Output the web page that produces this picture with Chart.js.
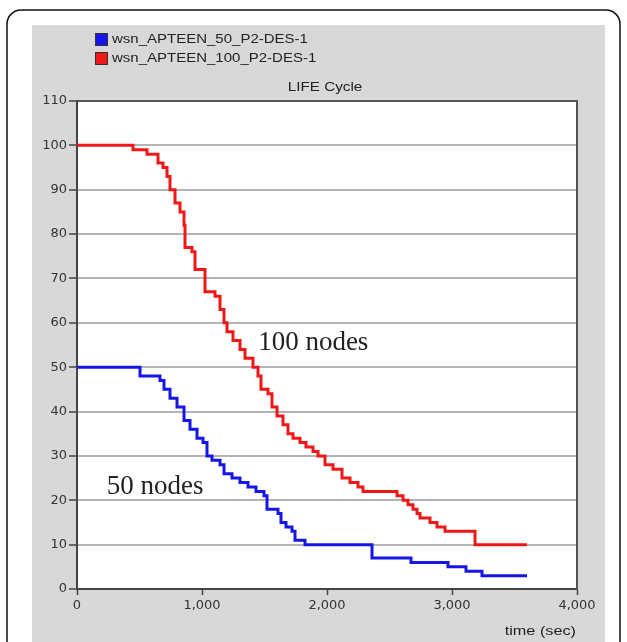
<!DOCTYPE html>
<html>
<head>
<meta charset="utf-8">
<script src="https://cdn.jsdelivr.net/npm/chart.js@4"></script>
<style>
  html, body { margin: 0; padding: 0; background: #fff; }
  #wrap { position: relative; width: 627px; height: 642px; }
</style>
</head>
<body>
<div id="wrap"><canvas id="lifeChart" width="627" height="642"></canvas></div>
<script>
// series: time (sec) where the node count changes, and the new count
const timeRed = [0, 448, 560, 648, 688, 720, 744, 784, 824, 856, 864, 920, 944, 1024, 1104, 1144, 1176, 1200, 1248, 1304, 1344, 1408, 1448, 1472, 1528, 1560, 1600, 1648, 1688, 1728, 1784, 1832, 1888, 1928, 1984, 2048, 2120, 2184, 2248, 2288, 2560, 2608, 2648, 2688, 2720, 2744, 2824, 2880, 2944, 3184, 3600]
const nodesRed = [100, 99, 98, 96, 95, 93, 90, 87, 85, 82, 77, 76, 72, 67, 66, 63, 60, 58, 56, 54, 52, 50, 48, 45, 44, 41, 39, 37, 35, 34, 33, 32, 31, 30, 28, 27, 25, 24, 23, 22, 21, 20, 19, 18, 17, 16, 15, 14, 13, 10, 10]

const timeBlue = [0, 504, 664, 696, 744, 800, 856, 904, 960, 1008, 1040, 1080, 1144, 1176, 1240, 1304, 1368, 1432, 1496, 1520, 1608, 1632, 1672, 1720, 1744, 1824, 2360, 2672, 2968, 3112, 3240, 3600]
const nodesBlue = [50, 48, 47, 45, 43, 41, 38, 36, 34, 33, 30, 29, 28, 26, 25, 24, 23, 22, 21, 18, 17, 15, 14, 13, 11, 10, 7, 6, 5, 4, 3, 3]

const seriesNames = ['wsn_APTEEN_50_P2-DES-1', 'wsn_APTEEN_100_P2-DES-1']
const seriesColors = ['rgb(22, 22, 230)', 'rgb(238, 24, 24)']
const xTicks = [0, 1000, 2000, 3000, 4000]

function toPoints(xs, ys) {
    return xs.map((x, i) => ({ x: x, y: ys[i] }))
}

// the source picture is a bit stretched sideways, so its small text is wide
function wideText(ctx, text, x, y, align, sx) {
    ctx.save()
    ctx.translate(x, y)
    ctx.scale(sx, 1)
    ctx.textAlign = align
    ctx.fillText(text, 0, 0)
    ctx.restore()
}

// frame, grey panel, legend, title and the two labels
const decor = {
    id: 'decor',
    beforeDraw(chart) {
        const ctx = chart.ctx
        ctx.save()
        ctx.fillStyle = '#fff'
        ctx.fillRect(0, 0, chart.width, chart.height)
        // rounded outer frame
        ctx.strokeStyle = '#111'
        ctx.lineWidth = 1.5
        ctx.beginPath()
        ctx.moveTo(7, 660)
        ctx.lineTo(7, 24)
        ctx.arcTo(7, 10, 21, 10, 14)
        ctx.lineTo(606, 10)
        ctx.arcTo(620, 10, 620, 24, 14)
        ctx.lineTo(620, 660)
        ctx.stroke()
        // grey panel
        ctx.fillStyle = '#d8d8d8'
        ctx.fillRect(32, 25, 573, 640)
        // white plot area
        const a = chart.chartArea
        ctx.fillStyle = '#fff'
        ctx.fillRect(a.left, a.top, a.right - a.left, a.bottom - a.top)
        ctx.restore()
    },
    afterDraw(chart) {
        const ctx = chart.ctx
        const a = chart.chartArea
        const xs = chart.scales.x
        const ys = chart.scales.y
        ctx.save()
        // plot box top / right edge
        ctx.strokeStyle = '#555'
        ctx.lineWidth = 2
        ctx.beginPath()
        ctx.moveTo(a.left, a.top)
        ctx.lineTo(a.right, a.top)
        ctx.lineTo(a.right, a.bottom)
        ctx.stroke()

        // legend
        ctx.font = '12.5px "Liberation Sans", Arial, sans-serif'
        ctx.textBaseline = 'middle'
        seriesNames.forEach((name, i) => {
            const y = 39 + i * 19
            ctx.fillStyle = seriesColors[i]
            ctx.fillRect(96, y - 5, 11, 11)
            ctx.strokeStyle = '#333'
            ctx.lineWidth = 1
            ctx.strokeRect(95.5, y - 5.5, 12, 12)
            ctx.fillStyle = '#222'
            wideText(ctx, name, 112, y + 0.5, 'left', 1.2)
        })

        // title
        wideText(ctx, 'LIFE Cycle', 325, 88, 'center', 1.22)

        // x axis title
        ctx.font = '13px "Liberation Sans", Arial, sans-serif'
        wideText(ctx, 'time (sec)', 576, 631, 'right', 1.25)

        // curve labels
        ctx.font = '27px "Liberation Serif", "Times New Roman", serif'
        ctx.fillStyle = '#222'
        ctx.textAlign = 'center'
        ctx.fillText('100 nodes', xs.getPixelForValue(1890), ys.getPixelForValue(55.5))
        ctx.fillText('50 nodes', xs.getPixelForValue(625), ys.getPixelForValue(23))
        ctx.restore()
    }
}

const tickFont = { family: '"DejaVu Sans", sans-serif', size: 13 }

const config = {
    type: 'line',
    data: {
        datasets: [
            {
                label: seriesNames[0],
                data: toPoints(timeBlue, nodesBlue),
                borderColor: seriesColors[0],
                borderWidth: 3,
                pointRadius: 0,
                stepped: 'before',
                fill: false
            },
            {
                label: seriesNames[1],
                data: toPoints(timeRed, nodesRed),
                borderColor: seriesColors[1],
                borderWidth: 3,
                pointRadius: 0,
                stepped: 'before',
                fill: false
            }
        ]
    },
    options: {
        responsive: false,
        animation: false,
        layout: { padding: { left: 0, top: 101, right: 50, bottom: 0 } },
        plugins: {
            legend: { display: false },
            title: { display: false },
            tooltip: { enabled: false }
        },
        scales: {
            x: {
                type: 'linear',
                min: 0,
                max: 4000,
                afterFit: scale => { scale.height = 53 },
                afterBuildTicks: scale => { scale.ticks = xTicks.map(v => ({ value: v })) },
                border: { color: '#444', width: 2 },
                grid: { drawOnChartArea: false, drawTicks: true, tickLength: 6, tickColor: '#444', tickWidth: 1.5 },
                ticks: {
                    color: '#333',
                    padding: 3,
                    maxRotation: 0,
                    font: tickFont,
                    callback: v => v.toLocaleString('en-US')
                }
            },
            y: {
                min: 0,
                max: 110,
                afterFit: scale => { scale.width = 77 },
                border: { color: '#444', width: 2 },
                grid: { color: '#b4b4b4', lineWidth: 2, drawTicks: true, tickLength: 8, tickColor: '#444', tickWidth: 1.5 },
                ticks: {
                    stepSize: 10,
                    color: '#333',
                    padding: 2,
                    font: tickFont
                }
            }
        }
    },
    plugins: [decor]
}

new Chart(document.getElementById('lifeChart'), config)
</script>
</body>
</html>
